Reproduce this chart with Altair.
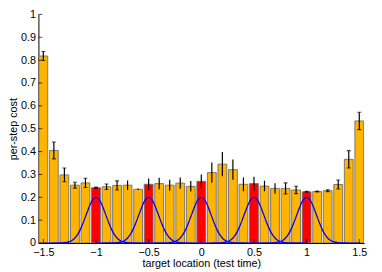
import altair as alt
import pandas as pd

# ---- data ----
locations = [-1.5, -1.4, -1.3, -1.2, -1.1, -1.0, -0.9, -0.8, -0.7, -0.6, -0.5,
             -0.4, -0.3, -0.2, -0.1, 0.0, 0.1, 0.2, 0.3, 0.4, 0.5,
             0.6, 0.7, 0.8, 0.9, 1.0, 1.1, 1.2, 1.3, 1.4, 1.5]
costs = [0.818, 0.405, 0.298, 0.253, 0.263, 0.242, 0.246, 0.252, 0.253, 0.235, 0.257,
         0.260, 0.253, 0.262, 0.248, 0.270, 0.308, 0.345, 0.321, 0.257, 0.260,
         0.249, 0.239, 0.239, 0.232, 0.224, 0.225, 0.229, 0.256, 0.366, 0.534]
errors = [0.020, 0.037, 0.030, 0.013, 0.020, 0.003, 0.012, 0.020, 0.021, 0.003, 0.025,
          0.025, 0.024, 0.025, 0.023, 0.030, 0.044, 0.053, 0.044, 0.030, 0.030,
          0.023, 0.023, 0.024, 0.016, 0.002, 0.002, 0.004, 0.020, 0.038, 0.038]
targets = [-1.0, -0.5, 0.0, 0.5, 1.0]

# one bump profile (offset from its target, height)
bump_offsets = [-0.5, -0.35, -0.3, -0.25, -0.225, -0.2, -0.175, -0.15, -0.125, -0.1,
                -0.075, -0.05, -0.025, 0.0, 0.025, 0.05, 0.075, 0.1, 0.125, 0.15,
                0.175, 0.2, 0.225, 0.25, 0.3, 0.35, 0.5]
bump_heights = [0.0, 0.0002, 0.0014, 0.006, 0.012, 0.022, 0.037, 0.0575, 0.084, 0.115,
                0.146, 0.174, 0.193, 0.2, 0.193, 0.174, 0.146, 0.115, 0.084, 0.0575,
                0.037, 0.022, 0.012, 0.006, 0.0014, 0.0002, 0.0]

x_ticks = [-1.5, -1.0, -0.5, 0.0, 0.5, 1.0, 1.5]
y_ticks = [0.0, 0.1, 0.2, 0.3, 0.4, 0.5, 0.6, 0.7, 0.8, 0.9, 1.0]

# ---- tables ----
bars = pd.DataFrame({"x": locations, "cost": costs, "err": errors})
bars["lo"] = bars["cost"] - bars["err"]
bars["hi"] = bars["cost"] + bars["err"]
bars["kind"] = ["target" if round(v, 2) in targets else "other" for v in locations]
bars["cap"] = [abs(v) > 0.75 for v in locations]

curves = pd.DataFrame(
    [{"center": c, "x": round(c + o, 4), "y": h}
     for c in targets for o, h in zip(bump_offsets, bump_heights)]
)
yt = pd.DataFrame({"v": y_ticks})
xt = pd.DataFrame({"v": x_ticks})

W, H = 332, 233
FONT = "Liberation Sans"
xscale = alt.Scale(domain=[-1.5, 1.5], nice=False, zero=False)
yscale = alt.Scale(domain=[0, 1], nice=False)

XAX = alt.Axis(values=x_ticks, format="~g", ticks=False, grid=False,
               labelPadding=4, title="target location (test time)",
               titleY=24, titleBaseline="alphabetic")
YAX = alt.Axis(values=y_ticks, format="~g", ticks=False, grid=False,
               labelPadding=3, title="per-step cost",
               titleX=-25, titleY=H / 2, titleAngle=270,
               titleAlign="center", titleBaseline="middle")


def X(field):
    return alt.X(field, scale=xscale, axis=XAX)


def Y(field):
    return alt.Y(field, scale=yscale, axis=YAX)


bar_layer = alt.Chart(bars).mark_bar(
    size=9, stroke="#6e6e6e", strokeWidth=0.9, clip=True
).encode(
    x=X("x:Q"),
    y=Y("cost:Q"),
    color=alt.Color("kind:N", scale=alt.Scale(domain=["other", "target"],
                                              range=["#FFB400", "#FF0000"]),
                    legend=None),
)

curve_layer = alt.Chart(curves).mark_line(
    color="#0000FF", strokeWidth=1.3, interpolate="monotone", clip=True
).encode(x=X("x:Q"), y=Y("y:Q"), detail="center:N")

err_layer = alt.Chart(bars).mark_rule(color="black", strokeWidth=1.2, clip=True).encode(
    x=X("x:Q"), y=Y("lo:Q"), y2="hi:Q",
)

cap_hi = alt.Chart(bars).transform_filter("datum.cap").mark_tick(
    orient="horizontal", size=4, thickness=1.1, color="black", clip=True
).encode(x=X("x:Q"), y=Y("hi:Q"))

cap_lo = alt.Chart(bars).transform_filter("datum.cap").mark_tick(
    orient="horizontal", size=4, thickness=1.1, color="black", clip=True
).encode(x=X("x:Q"), y=Y("lo:Q"))

ytick_layer = alt.Chart(yt).mark_tick(
    orient="horizontal", size=4, thickness=1, color="black"
).encode(y=Y("v:Q"), x=alt.value(2))

xtick_layer = alt.Chart(xt).mark_tick(
    orient="vertical", size=4, thickness=1, color="black"
).encode(x=X("v:Q"), y=alt.value(H - 2))

chart = alt.layer(
    bar_layer, curve_layer, err_layer, cap_hi, cap_lo, ytick_layer, xtick_layer
).properties(
    width=W, height=H,
    autosize=alt.AutoSizeParams(type="none"),
    padding={"left": 31, "top": 4, "right": 10, "bottom": 27},
    background="white",
).configure_view(stroke=None).configure_axis(
    domainColor="black", domainWidth=1, labelColor="black", titleColor="black",
    labelFont=FONT, titleFont=FONT, labelFontSize=11, titleFontSize=11,
    titleFontWeight="normal",
)

chart.save("out.html", embed_options={"renderer": "svg", "actions": False})
